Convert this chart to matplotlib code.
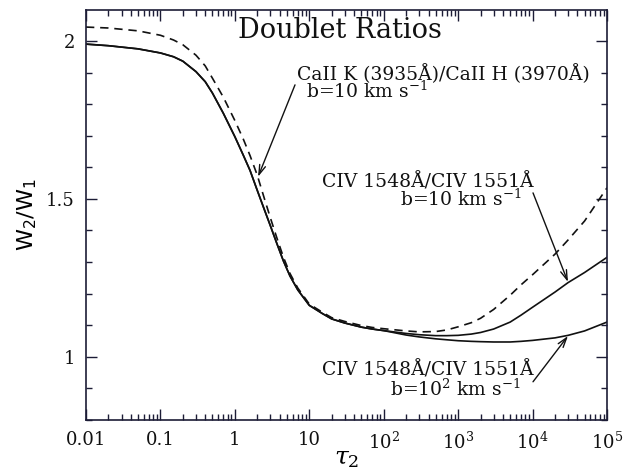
import matplotlib
matplotlib.use("Agg")
import matplotlib.pyplot as plt
from matplotlib.ticker import FixedLocator, FixedFormatter, MultipleLocator, LogLocator, NullFormatter

plt.rcParams['font.family'] = ['DejaVu Serif']
plt.rcParams['mathtext.fontset'] = 'dejavuserif'

# Optical depth tau_2 (shared low-tau portion)
tau_low = [0.01, 0.02, 0.05, 0.1, 0.15, 0.2, 0.3, 0.4, 0.5, 0.7, 1.0, 1.3, 1.6, 2.0, 2.5,
           3.0, 3.65, 4.5, 5.5, 7, 10, 15, 20, 30, 50, 70, 100]
# high-tau portion
tau_high = [200, 300, 500, 700, 1000, 1500, 2000, 3000, 5000, 7000, 1e4, 2e4, 3e4, 5e4, 1e5]

# CIV 1548/1551 (solid, both b values coincide at low tau)
civ_low = [1.990, 1.985, 1.975, 1.962, 1.950, 1.936, 1.903, 1.871, 1.835, 1.771, 1.697, 1.638,
           1.590, 1.527, 1.465, 1.415, 1.360, 1.303, 1.256, 1.212, 1.163, 1.137, 1.120, 1.107,
           1.094, 1.088, 1.083]
# CIV b=10 km/s (upper solid at high tau)
civ_b10_high = [1.074, 1.070, 1.067, 1.067, 1.068, 1.072, 1.077, 1.088, 1.110, 1.132, 1.157,
                1.205, 1.235, 1.267, 1.315]
# CIV b=100 km/s (lower solid at high tau)
civ_b100_high = [1.069, 1.063, 1.057, 1.054, 1.051, 1.049, 1.048, 1.047, 1.047, 1.049, 1.052,
                 1.060, 1.068, 1.082, 1.110]

# CaII K/H, b=10 km/s (dashed)
caii_low = [2.044, 2.041, 2.032, 2.018, 2.003, 1.988, 1.955, 1.921, 1.882, 1.822, 1.748, 1.689,
            1.637, 1.575, 1.500, 1.440, 1.378, 1.315, 1.264, 1.218, 1.167, 1.141, 1.124, 1.112,
            1.099, 1.093, 1.089]
caii_high = [1.082, 1.079, 1.080, 1.085, 1.095, 1.108, 1.122, 1.150, 1.195, 1.228, 1.260,
             1.325, 1.370, 1.430, 1.535]

xtick_vals = [0.01, 0.1, 1, 10, 1e2, 1e3, 1e4, 1e5]
xtick_labels = ['0.01', '0.1', '1', '10', r'$10^2$', r'$10^3$', r'$10^4$', r'$10^5$']
ytick_vals = [1, 1.5, 2]
ytick_labels = ['1', '1.5', '2']

tau = tau_low + tau_high

fig = plt.figure(figsize=(6.23, 4.76), dpi=100)
ax = fig.add_axes([86/623, 56/476, 521/623, 410/476])

ink = '#1c1c36'
ax.plot(tau, caii_low + caii_high, color='#111111', lw=1.2, ls=(0, (5, 3.5)))
ax.plot(tau, civ_low + civ_b10_high, color='#111111', lw=1.2)
ax.plot(tau, civ_low + civ_b100_high, color='#111111', lw=1.2)

ax.set_xscale('log')
ax.set_xlim(0.01, 1e5)
ax.set_ylim(0.80, 2.098)

ax.xaxis.set_major_locator(FixedLocator(xtick_vals))
ax.xaxis.set_major_formatter(FixedFormatter(xtick_labels))
ax.xaxis.set_minor_locator(LogLocator(base=10, subs=range(2, 10), numticks=20))
ax.xaxis.set_minor_formatter(NullFormatter())
ax.yaxis.set_major_locator(FixedLocator(ytick_vals))
ax.yaxis.set_major_formatter(FixedFormatter(ytick_labels))
ax.yaxis.set_minor_locator(MultipleLocator(0.1))

ax.tick_params(which='both', direction='in', top=True, right=True, color=ink, width=1.0,
               labelsize=13, labelcolor='#111111')
ax.tick_params(which='major', length=8)
ax.tick_params(which='minor', length=4)
ax.tick_params(axis='x', pad=8)
ax.tick_params(axis='y', pad=8)
for s in ax.spines.values():
    s.set_color(ink)
    s.set_linewidth(1.2)

ax.set_ylabel(r'$\mathsf{W_2/W_1}$', fontsize=16, va='center')
ax.yaxis.set_label_coords(-0.112, 0.5)
ax.set_xlabel(r'$\tau_2$', fontsize=18, va='center')
ax.xaxis.set_label_coords(0.50, -0.093)

ax.text(0.4875, 0.951, 'Doublet Ratios', transform=ax.transAxes, ha='center', va='center',
        fontsize=19.5, color='#111111')

fs = 13.5
ax.text(0.686, 0.843, 'CaII K (3935Å)/CaII H (3970Å)', transform=ax.transAxes,
        ha='center', va='center', fontsize=fs, color='#111111')
ax.text(0.539, 0.801, r'b=10 km s$^{-1}$', transform=ax.transAxes,
        ha='center', va='center', fontsize=fs, color='#111111')

ax.text(0.656, 0.580, 'CIV 1548Å/CIV 1551Å', transform=ax.transAxes,
        ha='center', va='center', fontsize=fs, color='#111111')
ax.text(0.72, 0.539, r'b=10 km s$^{-1}$', transform=ax.transAxes,
        ha='center', va='center', fontsize=fs, color='#111111')

ax.text(0.656, 0.121, 'CIV 1548Å/CIV 1551Å', transform=ax.transAxes,
        ha='center', va='center', fontsize=fs, color='#111111')
ax.text(0.71, 0.075, r'b=10$^2$ km s$^{-1}$', transform=ax.transAxes,
        ha='center', va='center', fontsize=fs, color='#111111')

aprops = dict(arrowstyle='->,head_length=0.7,head_width=0.22', color='#111111', lw=1.0,
              shrinkA=0, shrinkB=0)
ax.annotate('', xy=(2.05, 1.570), xytext=(6.43, 1.861), arrowprops=aprops)
ax.annotate('', xy=(29900, 1.237), xytext=(10140, 1.519), arrowprops=aprops)
ax.annotate('', xy=(29900, 1.066), xytext=(10140, 0.921), arrowprops=aprops)

fig.savefig('out.png', dpi=100)
